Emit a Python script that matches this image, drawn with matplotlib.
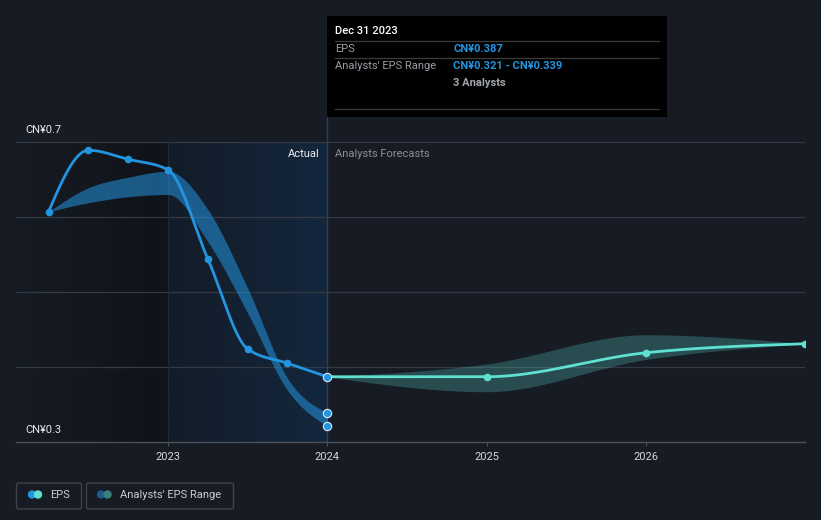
import numpy as np
import matplotlib
matplotlib.use("Agg")
import matplotlib.pyplot as plt
from matplotlib.patches import FancyBboxPatch, Rectangle, Circle
from matplotlib.colors import to_rgba

plt.rcParams['font.family'] = ['Roboto', 'DejaVu Sans']

# ---------------- data ----------------
hist_x = [2022.25, 2022.5, 2022.75, 2023.0, 2023.25, 2023.5, 2023.75, 2024.0]
hist_eps = [0.607, 0.689, 0.677, 0.663, 0.544, 0.424, 0.405, 0.387]
hist_high = [0.607, 0.639, 0.653, 0.661, 0.610, 0.505, 0.385, 0.339]
hist_low = [0.607, 0.619, 0.627, 0.630, 0.567, 0.472, 0.369, 0.321]

fc_x = [2024.0, 2025.0, 2026.0, 2027.0]
fc_eps = [0.387, 0.387, 0.419, 0.431]
fc_high = [0.387, 0.404, 0.443, 0.431]
fc_low = [0.387, 0.367, 0.410, 0.431]

range_pts = [0.339, 0.321]

y_ticks = [0.3, 0.7]
y_tick_labels = ["CN¥0.3", "CN¥0.7"]
grid_vals = [0.4, 0.5, 0.6, 0.7]
x_ticks = [2023, 2024, 2025, 2026]
x_tick_labels = ["2023", "2024", "2025", "2026"]

BG = "#161b24"
BLUE = "#2394df"
TEAL = "#5ee1d0"


def monotone(x, y, n=60):
    x = np.asarray(x, float)
    y = np.asarray(y, float)
    h = np.diff(x)
    s = np.diff(y) / h
    m = np.zeros_like(x)
    for i in range(1, len(x) - 1):
        p = (s[i - 1] * h[i] + s[i] * h[i - 1]) / (h[i - 1] + h[i])
        m[i] = (np.sign(s[i - 1]) + np.sign(s[i])) * min(abs(s[i - 1]), abs(s[i]), 0.5 * abs(p))
    if len(x) > 2:
        m[0] = (3 * s[0] - m[1]) / 2
        m[-1] = (3 * s[-1] - m[-2]) / 2
    else:
        m[0] = m[-1] = s[0]
    xs, ys = [], []
    for i in range(len(x) - 1):
        t = np.linspace(0, 1, n, endpoint=(i == len(x) - 2))
        h00 = 2 * t**3 - 3 * t**2 + 1
        h10 = t**3 - 2 * t**2 + t
        h01 = -2 * t**3 + 3 * t**2
        h11 = t**3 - t**2
        xs.append(x[i] + t * h[i])
        ys.append(h00 * y[i] + h10 * h[i] * m[i] + h01 * y[i + 1] + h11 * h[i] * m[i + 1])
    return np.concatenate(xs), np.concatenate(ys)


W, H = 821, 520
fig = plt.figure(figsize=(W / 100, H / 100), dpi=100, facecolor=BG)

L, R, T, B = 16, 805, 16, 442
ax = fig.add_axes([L / W, (H - B) / H, (R - L) / W, (B - T) / H])
ax.set_facecolor(BG)
x0 = 2023 - (168 - L) / 159.33
x1 = 2023 + (R - 168) / 159.33
ymax = 0.7 + (142 - T) / 750
ax.set_xlim(x0, x1)
ax.set_ylim(0.3, ymax)

for sp in ["top", "right", "left"]:
    ax.spines[sp].set_visible(False)
ax.spines["bottom"].set_color("#4b5059")
ax.spines["bottom"].set_linewidth(1.0)

# shaded regions
def hgrad(c_left, c_right, n=256):
    a = np.array(to_rgba(c_left))
    b = np.array(to_rgba(c_right))
    t = np.linspace(0, 1, n)[None, :, None]
    return a + (b - a) * t

ax.imshow(hgrad(BG, "#101318"), extent=[x0, 2023, 0.3, 0.7], aspect="auto", zorder=0, interpolation="bilinear")
ax.imshow(hgrad("#131c28", "#13273d"), extent=[2023, 2024, 0.3, 0.7], aspect="auto", zorder=0, interpolation="bilinear")
ax.set_xlim(x0, x1)
ax.set_ylim(0.3, ymax)

for g in grid_vals:
    ax.axhline(g, color="#343a44", lw=0.9, zorder=1)
ax.plot([2023, 2023], [0.3, 0.7], color="#1d2a39", lw=0.9, zorder=1)
ax.plot([2024, 2024], [0.3, ymax], color="#2c4158", lw=1.0, zorder=1)

# bands
bx, bh = monotone(hist_x, hist_high)
_, bl = monotone(hist_x, hist_low)
ax.fill_between(bx, bl, bh, color=BLUE, alpha=0.55, lw=0, zorder=2)
fx, fh = monotone(fc_x, fc_high)
_, fl = monotone(fc_x, fc_low)
ax.fill_between(fx, fl, fh, color=TEAL, alpha=0.25, lw=0, zorder=2)

# lines
lx, ly = monotone(hist_x, hist_eps)
ax.plot(lx, ly, color=BLUE, lw=2.0, zorder=3, solid_capstyle="round")
ax.plot(hist_x[:-1], hist_eps[:-1], "o", color=BLUE, ms=5.5, mew=0, zorder=4)
gx, gy = monotone(fc_x, fc_eps)
ax.plot(gx, gy, color=TEAL, lw=2.0, zorder=3)
ax.plot(fc_x[1:], fc_eps[1:], "o", color=TEAL, ms=5.5, mew=0, zorder=4, clip_on=True)
ax.plot([hist_x[-1]] * 3, [hist_eps[-1]] + range_pts, "o", color=BLUE, ms=6, mec="#dce9f2", mew=0.8, zorder=5, clip_on=False)

# ticks
ax.set_yticks([])
ax.set_xticks(x_ticks)
ax.set_xticklabels(x_tick_labels)
ax.tick_params(axis="x", colors="#4b5059", labelcolor="#d5d8dc", labelsize=8, length=3, width=0.8, pad=4)

for v, lab in zip(y_ticks, y_tick_labels):
    ax.annotate(lab, xy=(0, v), xycoords=("axes fraction", "data"), xytext=(9, 12),
                textcoords="offset pixels", color="#e6e8eb", fontsize=8, va="center", ha="left")

ax.annotate("Actual", xy=(2024, 0.7), xytext=(-8, -12), textcoords="offset pixels",
            color="#eceef0", fontsize=8, ha="right", va="center")
ax.annotate("Analysts Forecasts", xy=(2024, 0.7), xytext=(8, -12), textcoords="offset pixels",
            color="#8b9098", fontsize=8, ha="left", va="center")

# overlay in pixel coordinates
ov = fig.add_axes([0, 0, 1, 1], zorder=10)
ov.set_xlim(0, W)
ov.set_ylim(H, 0)
ov.axis("off")
ov.patch.set_alpha(0)

# tooltip
ov.add_patch(Rectangle((327, 16), 340, 101, facecolor="#000000", edgecolor="none"))
for yy in (41, 58, 109):
    ov.plot([335, 659], [yy, yy], color="#3c3c3c", lw=0.9)
ov.text(335, 31, "Dec 31 2023", color="#ffffff", fontsize=8, fontweight="medium", va="center")
ov.text(335, 49, "EPS", color="#9a9fa6", fontsize=8, va="center")
ov.text(453, 49, "CN¥0.387", color=BLUE, fontsize=8, fontweight="bold", va="center")
ov.text(335, 66, "Analysts' EPS Range", color="#9a9fa6", fontsize=8, va="center")
ov.text(453, 66, "CN¥0.321 - CN¥0.339", color=BLUE, fontsize=8, fontweight="bold", va="center")
ov.text(453, 83, "3 Analysts", color="#a2a6ac", fontsize=8, fontweight="bold", va="center")

# legend
ov.add_patch(FancyBboxPatch((16.5, 483), 65, 26, boxstyle="round,pad=0,rounding_size=2",
                            facecolor="none", edgecolor="#3d424b", lw=1))
ov.add_patch(FancyBboxPatch((86.5, 483), 147, 26, boxstyle="round,pad=0,rounding_size=2",
                            facecolor="none", edgecolor="#3d424b", lw=1))
ov.add_patch(Circle((32, 494.5), 4.2, color=BLUE, lw=0))
ov.add_patch(Circle((38, 494.5), 4.2, color=TEAL, lw=0))
ov.add_patch(Circle((101, 494.5), 4.2, color="#1e5a8c", lw=0))
ov.add_patch(Circle((107.5, 494.5), 4.2, color="#3a7f7c", lw=0))
ov.text(50, 495, "EPS", color="#c9ccd1", fontsize=8, va="center")
ov.text(120, 495, "Analysts' EPS Range", color="#c9ccd1", fontsize=8, va="center")

fig.savefig("out.png", dpi=100, facecolor=BG)
